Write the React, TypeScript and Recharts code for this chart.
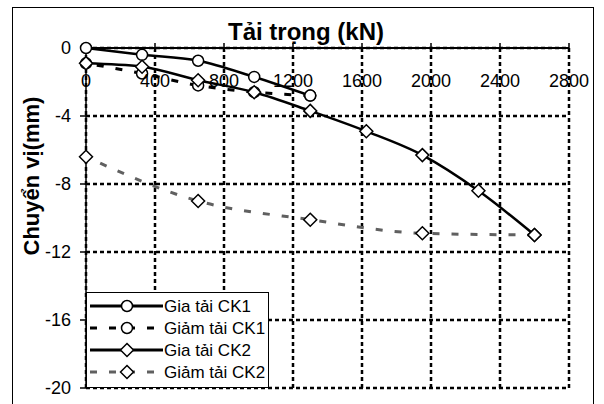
import { LineChart, Line, XAxis, YAxis, CartesianGrid, Legend } from "recharts";

const FONT = "'Liberation Sans', Arial, sans-serif";

const X_TICKS = [0, 400, 800, 1200, 1600, 2000, 2400, 2800];
const Y_TICKS = [0, -4, -8, -12, -16, -20];

// Tải trọng (kN) / chuyển vị (mm)
const LOAD_CK1 = [0, 325, 650, 975, 1300];
const DISP_LOAD_CK1 = [0, -0.4, -0.75, -1.7, -2.8];
const UNLOAD_CK1 = [1300, 975, 650, 325, 0];
const DISP_UNLOAD_CK1 = [-2.8, -2.6, -2.2, -1.5, -0.9];
const LOAD_CK2 = [0, 325, 650, 975, 1300, 1625, 1950, 2275, 2600];
const DISP_LOAD_CK2 = [-0.9, -1.1, -1.9, -2.6, -3.7, -4.9, -6.3, -8.4, -11.0];
const UNLOAD_CK2 = [2600, 1950, 1300, 650, 0];
const DISP_UNLOAD_CK2 = [-11.0, -10.9, -10.1, -9.0, -6.4];

const pairs = (xs: number[], ys: number[]) => xs.map((x, i) => ({ x, y: ys[i] }));

const CircleDot = ({ cx, cy, index }: any) => (
  <circle key={index} cx={cx} cy={cy} r={5.5} fill="#fff" stroke="#000" strokeWidth={1.5} />
);
const DiamondDot = ({ cx, cy, index }: any) => (
  <path key={index} d={`M${cx},${cy - 6.5}L${cx + 6.5},${cy}L${cx},${cy + 6.5}L${cx - 6.5},${cy}Z`} fill="#fff" stroke="#000" strokeWidth={1.5} />
);

const SERIES = [
  { name: "Gia tải CK1", data: pairs(LOAD_CK1, DISP_LOAD_CK1), color: "#000", dash: undefined, marker: "circle" },
  { name: "Giảm tải CK1", data: pairs(UNLOAD_CK1, DISP_UNLOAD_CK1), color: "#000", dash: "7 12", marker: "circle" },
  { name: "Gia tải CK2", data: pairs(LOAD_CK2, DISP_LOAD_CK2), color: "#000", dash: undefined, marker: "diamond" },
  { name: "Giảm tải CK2", data: pairs(UNLOAD_CK2, DISP_UNLOAD_CK2), color: "#606060", dash: "7 12", marker: "diamond" },
];

const renderLegend = () => (
  <svg width={181} height={94} style={{ display: "block" }}>
    {SERIES.map((s, i) => {
      const y = 13 + i * 22;
      return (
        <g key={s.name}>
          <line x1={3} x2={76} y1={y} y2={y} stroke={s.color} strokeWidth={3} strokeDasharray={s.dash} />
          {s.marker === "circle" ? <CircleDot cx={40} cy={y} index={0} /> : <DiamondDot cx={40} cy={y} index={0} />}
          <text x={77} y={y} dy="0.35em" fontSize={17} fontFamily={FONT} fill="#000">{s.name}</text>
        </g>
      );
    })}
  </svg>
);

export default function App() {
  return (
    <div style={{ position: "absolute", left: 0, top: 0, width: 604, height: 404, overflow: "hidden", background: "#fff" }}>
      <div style={{ position: "absolute", left: 12, top: 7, width: 580, height: 410, border: "1px solid #000" }} />
      <LineChart width={604} height={404} margin={{ top: 18, left: 12, right: 35, bottom: 16 }}>
        <CartesianGrid stroke="#000" strokeWidth={2.5} strokeDasharray="4 3" />
        <XAxis
          type="number"
          dataKey="x"
          orientation="top"
          domain={[0, 2800]}
          ticks={X_TICKS}
          interval={0}
          height={30}
          tickSize={5}
          tickMargin={-44}
          axisLine={{ stroke: "#000", strokeWidth: 2 }}
          tickLine={{ stroke: "#000", strokeWidth: 1.5 }}
          tick={{ fill: "#000", fontSize: 18, fontFamily: FONT }}
        />
        <YAxis
          type="number"
          domain={[-20, 0]}
          ticks={Y_TICKS}
          interval={0}
          width={74}
          tickSize={6}
          tickMargin={9}
          axisLine={{ stroke: "#000", strokeWidth: 1.5 }}
          tickLine={{ stroke: "#000", strokeWidth: 1.5 }}
          tick={{ fill: "#000", fontSize: 18, fontFamily: FONT }}
        />
        {SERIES.map((s) => (
          <Line
            key={s.name}
            name={s.name}
            data={s.data}
            dataKey="y"
            type="monotone"
            stroke={s.color}
            strokeWidth={s.dash ? 3 : 2.5}
            strokeDasharray={s.dash}
            dot={s.marker === "circle" ? CircleDot : DiamondDot}
            activeDot={false}
            isAnimationActive={false}
          />
        ))}
        <Legend
          layout="vertical"
          align="center"
          verticalAlign="middle"
          width={183}
          height={96}
          content={renderLegend}
          wrapperStyle={{ left: 86, top: 292, width: 183, height: 96, border: "1px solid #000", background: "#fff", boxSizing: "border-box" }}
        />
      </LineChart>
      <div style={{ position: "absolute", left: 306, top: 32, transform: "translate(-50%, -50%)", fontFamily: FONT, fontWeight: "bold", fontSize: 24, lineHeight: 1, whiteSpace: "nowrap" }}>
        Tải trọng (kN)
      </div>
      <div style={{ position: "absolute", left: 32, top: 176, transform: "translate(-50%, -50%) rotate(-90deg)", fontFamily: FONT, fontWeight: "bold", fontSize: 22, lineHeight: 1, whiteSpace: "nowrap" }}>
        Chuyển vị(mm)
      </div>
    </div>
  );
}
